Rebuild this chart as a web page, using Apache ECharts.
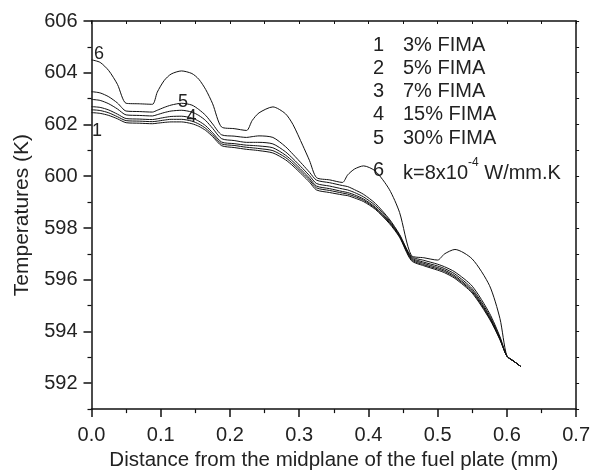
<!DOCTYPE html>
<html>
<head>
<meta charset="utf-8">
<script src="https://cdn.jsdelivr.net/npm/echarts@6/dist/echarts.min.js"></script>
<style>html,body{margin:0;padding:0;background:#fff}#c{width:593px;height:476px}</style>
</head>
<body>
<div id="c"></div>
<script>
const xs = [0, 0.0125, 0.025, 0.0375, 0.05, 0.069, 0.088, 0.095, 0.105, 0.115, 0.13, 0.145, 0.155, 0.165, 0.175, 0.188, 0.206, 0.224, 0.232, 0.242, 0.262, 0.28, 0.291, 0.305, 0.315, 0.325, 0.344, 0.3625, 0.37, 0.38, 0.393, 0.41, 0.43, 0.445, 0.462, 0.48, 0.5, 0.51, 0.525, 0.55, 0.575, 0.59, 0.6, 0.61, 0.62];

const curve1 = [602.46, 602.43, 602.35, 602.22, 602.07, 602.05, 602.03, 602.05, 602.08, 602.1, 602.1, 602.03, 601.93, 601.77, 601.53, 601.18, 601.11, 601.04, 601.02, 600.99, 600.9, 600.64, 600.4, 600.04, 599.77, 599.47, 599.37, 599.28, 599.25, 599.16, 599.02, 598.72, 598.18, 597.64, 596.74, 596.54, 596.37, 596.27, 596.05, 595.48, 594.48, 593.68, 593.05, 592.85, 592.65];
const curve2 = [602.57, 602.54, 602.45, 602.3, 602.15, 602.13, 602.11, 602.13, 602.17, 602.2, 602.2, 602.13, 602.02, 601.85, 601.6, 601.25, 601.19, 601.12, 601.1, 601.07, 600.99, 600.73, 600.48, 600.12, 599.85, 599.55, 599.45, 599.35, 599.31, 599.22, 599.07, 598.76, 598.22, 597.67, 596.78, 596.58, 596.42, 596.32, 596.1, 595.53, 594.52, 593.7, 593.05, 592.85, 592.65];
const curve3 = [602.69, 602.66, 602.56, 602.4, 602.23, 602.21, 602.19, 602.22, 602.27, 602.31, 602.32, 602.25, 602.13, 601.95, 601.68, 601.32, 601.26, 601.2, 601.19, 601.17, 601.1, 600.82, 600.57, 600.2, 599.92, 599.62, 599.52, 599.41, 599.37, 599.28, 599.12, 598.8, 598.25, 597.69, 596.82, 596.63, 596.47, 596.37, 596.15, 595.58, 594.56, 593.72, 593.05, 592.85, 592.65];
const curve4 = [602.97, 602.93, 602.8, 602.6, 602.37, 602.35, 602.33, 602.38, 602.46, 602.52, 602.55, 602.48, 602.35, 602.15, 601.85, 601.45, 601.38, 601.31, 601.31, 601.31, 601.25, 600.95, 600.68, 600.3, 600.02, 599.72, 599.62, 599.51, 599.47, 599.37, 599.2, 598.87, 598.3, 597.72, 596.86, 596.68, 596.53, 596.43, 596.22, 595.65, 594.62, 593.75, 593.05, 592.85, 592.65];
const curve5 = [603.27, 603.22, 603.07, 602.83, 602.52, 602.5, 602.48, 602.55, 602.66, 602.75, 602.82, 602.75, 602.58, 602.35, 602.02, 601.6, 601.55, 601.5, 601.53, 601.56, 601.5, 601.15, 600.85, 600.45, 600.15, 599.85, 599.75, 599.64, 599.6, 599.48, 599.3, 598.95, 598.35, 597.75, 596.9, 596.75, 596.6, 596.5, 596.3, 595.75, 594.7, 593.8, 593.05, 592.85, 592.65];
const curve6 = [604.5, 604.4, 604.08, 603.55, 602.82, 602.8, 602.78, 603.25, 603.7, 603.95, 604.07, 603.97, 603.75, 603.35, 602.8, 601.9, 601.84, 601.77, 602.15, 602.45, 602.68, 602.42, 602.0, 601.2, 600.6, 599.95, 599.86, 599.76, 600.05, 600.28, 600.4, 600.2, 599.5, 598.6, 596.94, 596.85, 596.76, 597.0, 597.17, 596.8, 595.77, 594.5, 593.05, 592.85, 592.65];

const curves = [curve1, curve2, curve3, curve4, curve5, curve6];
const legendNums = ['1', '2', '3', '4', '5', '6'];
const legendTexts = ['3% FIMA', '5% FIMA', '7% FIMA', '15% FIMA', '30% FIMA', null];

const xTicks = [0, 0.1, 0.2, 0.3, 0.4, 0.5, 0.6, 0.7];
const yTicks = [592, 594, 596, 598, 600, 602, 604, 606];

const FONT = 'Liberation Sans, Arial, sans-serif';
const TXT = '#222';

const chart = echarts.init(document.getElementById('c'), null, {renderer: 'canvas'});

const series = curves.map((c, i) => ({
  type: 'line',
  name: legendNums[i],
  data: xs.map((x, k) => [x, c[k]]),
  showSymbol: false,
  smooth: 0.25,
  lineStyle: {color: '#111', width: 1},
  xAxisIndex: 0, yAxisIndex: 0,
  animation: false
}));

const g = [];
const rowsY = [45, 68.3, 91.6, 114.9, 138.5, 170];
for (let i = 0; i < 6; i++) {
  g.push({type: 'text', x: 373, y: rowsY[i],
    style: {text: legendNums[i], font: '20px ' + FONT, fill: TXT, verticalAlign: 'middle'}});
  if (legendTexts[i]) {
    g.push({type: 'text', x: 403, y: rowsY[i],
      style: {text: legendTexts[i], font: '20px ' + FONT, fill: TXT, verticalAlign: 'middle'}});
  }
}
g.push({type: 'text', x: 403, y: rowsY[5] - 13,
  style: {
    text: '{a|k=8x10}{s|-4}{a| W/mm.K}',
    rich: {
      a: {font: '20px ' + FONT, fill: TXT, color: TXT, verticalAlign: 'bottom', lineHeight: 26},
      s: {font: '12px ' + FONT, fill: TXT, color: TXT, verticalAlign: 'top', lineHeight: 26, padding: [0, 0, 12, 0]}
    }
  }});

const curveLabels = [
  {t: '6', x: 99, y: 54},
  {t: '5', x: 183, y: 102},
  {t: '4', x: 191.5, y: 117.5},
  {t: '1', x: 97, y: 131}
];
curveLabels.forEach(l => g.push({type: 'text', x: l.x, y: l.y,
  style: {text: l.t, font: '18px ' + FONT, fill: TXT, align: 'center', verticalAlign: 'middle'}}));

const option = {
  backgroundColor: '#fff',
  animation: false,
  grid: {left: 91.5, right: 16.5, top: 21, bottom: 61, containLabel: false},
  xAxis: [{
    type: 'value', min: 0, max: 0.7, interval: 0.1,
    name: 'Distance from the midplane of the fuel plate (mm)',
    nameLocation: 'middle', nameGap: 40,
    nameTextStyle: {fontFamily: FONT, fontSize: 20.5, color: TXT},
    axisLine: {onZero: false, lineStyle: {color: '#111', width: 1.5}},
    axisTick: {inside: false, length: 8, lineStyle: {color: '#111', width: 1.5}},
    minorTick: {show: true, splitNumber: 2, length: 4, lineStyle: {color: '#111', width: 1.2}},
    axisLabel: {fontFamily: FONT, fontSize: 20, color: TXT, margin: 16, formatter: v => v.toFixed(1)},
    splitLine: {show: false}
  }, {
    type: 'value', min: 0, max: 0.7, interval: 0.1, position: 'top',
    axisLine: {onZero: false, lineStyle: {color: '#111', width: 1.5}},
    axisTick: {inside: true, length: 3, lineStyle: {color: '#111', width: 1}},
    minorTick: {show: true, splitNumber: 2, length: 3, lineStyle: {color: '#111', width: 1}},
    axisLabel: {show: false}, splitLine: {show: false}
  }],
  yAxis: [{
    type: 'value', min: 591, max: 606, interval: 1, position: 'left',
    name: 'Temperatures (K)', nameLocation: 'middle', nameGap: 59,
    nameTextStyle: {fontFamily: FONT, fontSize: 21, color: TXT},
    axisLine: {onZero: false, lineStyle: {color: '#111', width: 1.5}},
    axisTick: {length: 8, lineStyle: {color: '#111', width: 1.5}, customValues: yTicks},
    axisLabel: {fontFamily: FONT, fontSize: 20, color: TXT, margin: 14,
      customValues: yTicks, formatter: v => String(v)},
    splitLine: {show: false}
  }, {
    type: 'value', min: 591, max: 606, interval: 1, position: 'right',
    axisLine: {onZero: false, lineStyle: {color: '#111', width: 1.5}},
    axisTick: {length: 3, lineStyle: {color: '#111', width: 1}},
    axisLabel: {show: false}, splitLine: {show: false}
  }, {
    type: 'value', min: 591, max: 606, interval: 1, position: 'left',
    axisLine: {show: false},
    axisTick: {length: 4, lineStyle: {color: '#111', width: 1.2},
      customValues: [591, 593, 595, 597, 599, 601, 603, 605]},
    axisLabel: {show: false}, splitLine: {show: false}
  }],
  series: series,
  graphic: g
};
chart.setOption(option);
</script>
</body>
</html>
